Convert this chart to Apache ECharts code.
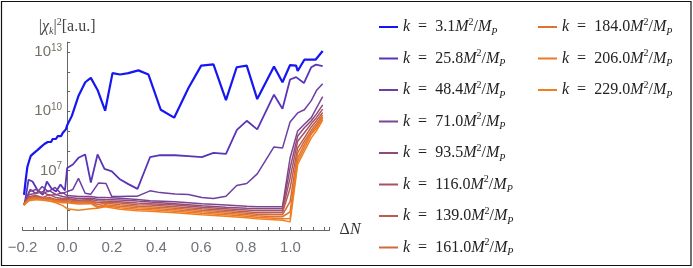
<!DOCTYPE html>
<html><head><meta charset="utf-8">
<script src="https://cdn.jsdelivr.net/npm/echarts@6/dist/echarts.min.js"></script>
<style>html,body{margin:0;padding:0;background:#fff}#c{width:693px;height:268px}</style>
</head><body><div id="c"></div>
<script>
// k values (legend), in units of M^2/M_P
const kValues = ['3.1','25.8','48.4','71.0','93.5','116.0','139.0','161.0','184.0','206.0','229.0'];
const colors = ['#1616f2','#5a34b8','#6e3ea4','#7e4492','#8e4a7a','#a45466','#bc5c50','#d06a3e','#e07230','#ec7826','#f27f1e'];
const xTickLabels = ['-0.2','0.0','0.2','0.4','0.6','0.8','1.0'];
const yTickExponents = [7,10,13];

// series values: ΔN and log10(|chi_k|^2)
const x1 = [-0.193,-0.185,-0.178,-0.170,-0.163,-0.155,-0.148,-0.140,-0.132,-0.125,-0.117,-0.110,-0.102,-0.095,-0.087,-0.080,-0.072,-0.065,-0.057,-0.050,-0.042,-0.035,-0.027,-0.020,-0.012,-0.005,0.0,0.021,0.051,0.081,0.106,0.136,0.170,0.203,0.237,0.274,0.319,0.364,0.419,0.479,0.543,0.600,0.655,0.711,0.759,0.804,0.851,0.926,0.964,0.998,1.025,1.032,1.062,1.112,1.144];
const e1 = [5.78,6.6,7.2,7.5,7.75,7.7,7.9,7.85,8.05,8.0,8.2,8.15,8.35,8.3,8.45,8.5,8.45,8.6,8.65,8.6,8.75,8.8,8.75,8.9,8.95,9.1,9.3,9.77,10.79,11.47,11.69,11.08,10.03,11.93,11.86,11.93,12.07,11.86,10.08,9.68,11.18,12.31,12.37,10.57,12.23,12.31,10.62,12.27,11.47,12.34,12.31,12.04,12.61,12.61,13.05];

const x2 = [-0.191,-0.173,-0.155,-0.132,-0.109,-0.091,-0.07,-0.05,-0.03,-0.01,0.0,0.0255,0.0506,0.0805,0.106,0.136,0.167,0.200,0.234,0.274,0.315,0.371,0.416,0.483,0.543,0.603,0.655,0.711,0.760,0.804,0.851,0.926,0.964,0.998,1.025,1.060,1.093,1.114,1.144];
const e2 = [5.27,6.54,6.45,6.0,5.78,6.45,6.1,5.95,6.3,6.0,7.13,7.31,7.65,7.82,6.40,7.82,7.09,6.96,6.58,6.32,6.08,7.68,7.78,7.78,7.73,7.68,7.90,7.85,9.06,9.52,9.09,10.84,10.13,11.61,11.73,11.43,12.23,12.36,12.29];

const x3 = [-0.191,-0.166,-0.139,-0.112,-0.085,-0.054,-0.027,0.0,0.0255,0.0506,0.0805,0.106,0.140,0.174,0.200,0.237,0.273,0.315,0.371,0.416,0.483,0.543,0.603,0.655,0.711,0.759,0.804,0.851,0.926,0.964,0.998,1.032,1.062,1.093,1.116,1.144];
const e3 = [5.27,6.05,5.84,6.2,5.94,6.15,5.84,5.94,6.05,6.61,5.86,5.81,6.37,6.35,5.69,5.69,5.71,5.71,5.98,5.89,5.82,5.79,5.64,5.59,5.71,6.25,6.35,6.84,8.20,8.14,9.46,9.92,10.08,10.54,11.05,11.40];

const xLow = [-0.195,-0.17,-0.14,-0.11,-0.08,-0.05,-0.02,0.0,0.05,0.106,0.136,0.17,0.237,0.315,0.371,0.483,0.603,0.711,0.804,0.851,0.926,0.964,0.998,1.032,1.062,1.093,1.116,1.144];
const e4 = [5.27,5.94,6.05,5.84,5.99,5.79,5.89,5.74,5.69,5.69,5.64,5.64,5.60,5.54,5.48,5.43,5.33,5.26,5.20,5.18,5.18,5.18,7.64,9.01,9.35,9.68,10.16,10.74];
const e5 = [5.27,5.79,5.84,5.94,5.74,5.79,5.69,5.66,5.59,5.61,5.56,5.54,5.52,5.46,5.41,5.33,5.23,5.15,5.10,5.08,5.08,5.08,7.13,8.75,9.17,9.52,9.86,10.33];
const e6 = [5.27,5.69,5.74,5.64,5.79,5.64,5.59,5.59,5.51,5.54,5.48,5.46,5.43,5.36,5.33,5.26,5.15,5.08,5.01,4.97,4.97,4.97,6.62,8.49,8.92,9.38,9.68,10.11];
const e7 = [5.27,5.64,5.69,5.59,5.64,5.54,5.56,5.54,5.46,5.48,5.38,5.41,5.36,5.28,5.26,5.18,5.08,5.00,4.92,4.87,4.87,4.87,6.11,8.15,8.66,9.21,9.52,9.94];
const e8 = [5.27,5.59,5.64,5.61,5.59,5.51,5.48,5.48,5.41,5.43,5.28,5.36,5.28,5.20,5.18,5.10,5.00,4.92,4.85,4.80,4.77,4.77,5.43,7.90,8.49,9.04,9.38,9.82];
const e9 = [5.27,5.54,5.59,5.56,5.54,5.48,5.43,5.43,5.36,5.38,5.18,5.28,5.20,5.13,5.10,5.03,4.92,4.85,4.77,4.72,4.67,4.67,4.92,7.64,8.33,8.92,9.26,9.72];
const e10 = [5.27,5.51,5.56,5.54,5.48,5.43,5.38,5.38,5.31,5.33,5.13,5.23,5.13,5.05,5.03,4.95,4.85,4.77,4.69,4.64,4.59,4.57,4.58,7.47,8.15,8.84,9.14,9.65];
const e11 = [5.27,5.48,5.54,5.51,5.46,5.38,5.23,5.08,5.00,5.08,5.10,5.18,5.05,4.97,4.95,4.87,4.77,4.69,4.62,4.57,4.52,4.49,4.41,7.31,7.98,8.66,9.01,9.55];

const xs = [x1,x2,x3,xLow,xLow,xLow,xLow,xLow,xLow,xLow,xLow];
const es = [e1,e2,e3,e4,e5,e6,e7,e8,e9,e10,e11];
const names = kValues.map(k => 'k = ' + k + 'M^2/M_P');

const series = names.map((name, i) => ({
  name: name, type: 'line', showSymbol: false, symbol: 'none',
  data: xs[i].map((x, j) => [x, Math.pow(10, es[i][j])]),
  lineStyle: { color: colors[i], width: i === 0 ? 2.2 : (i === 1 ? 1.8 : 1.5) },
  itemStyle: { color: colors[i] },
  emphasis: { disabled: true }
}));

const X_MIN = -0.2, X_MAX = 1.175;
const GRID = { left: 22.5, width: 307.1, top: 42.1, height: 187.9 };
const yAxisOffset = -(0 - X_MIN) / (X_MAX - X_MIN) * GRID.width;

const SERIF = '"Liberation Serif", "DejaVu Serif", serif';
const legRich = {
  i: { fontFamily: SERIF, fontStyle: 'italic', fontSize: 16, color: '#222', lineHeight: 20 },
  n: { fontFamily: SERIF, fontSize: 16, color: '#222', lineHeight: 20 },
  sup: { fontFamily: SERIF, fontSize: 10, color: '#222', verticalAlign: 'top', lineHeight: 12 },
  sub: { fontFamily: SERIF, fontStyle: 'italic', fontSize: 10, color: '#222', verticalAlign: 'bottom', lineHeight: 12 }
};
const legFmt = name => {
  const k = name.replace('k = ', '').replace('M^2/M_P', '');
  return '{i|k}{n|\u2002=\u2002' + k + '}{i|M}{sup|2}{n|/}{i|M}{sub|P}';
};
const legendBase = {
  orient: 'vertical', top: 12, itemWidth: 19, itemHeight: 2, itemGap: 11.5, icon: 'rect',
  selectedMode: false, formatter: legFmt,
  textStyle: { rich: legRich }
};

const chart = echarts.init(document.getElementById('c'));
chart.setOption({
  animation: false,
  color: colors,
  graphic: [{ type: 'rect', shape: { x: 1.5, y: 1.5, width: 689.5, height: 264 }, style: { fill: 'none', stroke: '#111', lineWidth: 1.2 }, silent: true }],
  legend: [
    Object.assign({}, legendBase, { left: 374, data: names.slice(0, 8) }),
    Object.assign({}, legendBase, { left: 533, data: names.slice(8) })
  ],
  grid: Object.assign({ containLabel: false, outerBoundsMode: 'none' }, GRID),
  xAxis: {
    type: 'value', min: X_MIN, max: X_MAX, interval: 0.05,
    axisLine: { onZero: false, lineStyle: { color: '#666', width: 1 } },
    axisTick: { inside: true, length: 3, lineStyle: { color: '#666' } },
    splitLine: { show: false },
    axisLabel: {
      margin: 10, fontSize: 15, color: '#6f7278', fontFamily: 'Liberation Sans, Arial, sans-serif',
      formatter: v => {
        const raw = (Math.round(v * 10) / 10).toFixed(1);
        const s = raw.replace('-', '\u2212');
        return (Math.abs(v * 10 - Math.round(v * 10)) < 1e-6 && xTickLabels.indexOf(raw) >= 0) ? s : '';
      }
    },
    name: '{d|\u0394}{i|N}', nameLocation: 'end', nameGap: 10,
    nameTextStyle: { verticalAlign: 'middle', rich: {
      d: { fontFamily: SERIF, fontSize: 16, color: '#333' },
      i: { fontFamily: SERIF, fontStyle: 'italic', fontSize: 16, color: '#333' } } }
  },
  yAxis: {
    type: 'log', logBase: 10, min: 1e4, max: Math.pow(10, 13.5), splitNumber: 10,
    position: 'left', offset: yAxisOffset,
    axisLine: { onZero: false, lineStyle: { color: '#666', width: 1 } },
    axisTick: { inside: true, length: 3, lineStyle: { color: '#666' } },
    splitLine: { show: false },
    axisLabel: {
      margin: 5,
      formatter: v => {
        const e = Math.log10(v);
        const r = Math.round(e);
        if (Math.abs(e - r) < 1e-6 && yTickExponents.indexOf(r) >= 0) return '{b|10}{s|' + r + '}';
        return '';
      },
      rich: {
        b: { fontSize: 15, color: '#767066', fontFamily: 'Liberation Sans, Arial, sans-serif', lineHeight: 18 },
        s: { fontSize: 10, color: '#767066', fontFamily: 'Liberation Sans, Arial, sans-serif', verticalAlign: 'top', lineHeight: 12 }
      }
    },
    name: '{n||}{i|\u03c7}{sub|k}{n||}{sup|2}{n|[a.u.]}', nameLocation: 'end', nameGap: 6,
    nameTextStyle: { align: 'center', rich: {
      n: { fontFamily: SERIF, fontSize: 16, color: '#444', lineHeight: 19 },
      i: { fontFamily: SERIF, fontStyle: 'italic', fontSize: 16, color: '#444', lineHeight: 19 },
      sub: { fontFamily: SERIF, fontStyle: 'italic', fontSize: 10, color: '#444', verticalAlign: 'bottom', lineHeight: 11 },
      sup: { fontFamily: SERIF, fontSize: 10, color: '#444', verticalAlign: 'top', lineHeight: 11 } } }
  },
  series: series
});
</script></body></html>
